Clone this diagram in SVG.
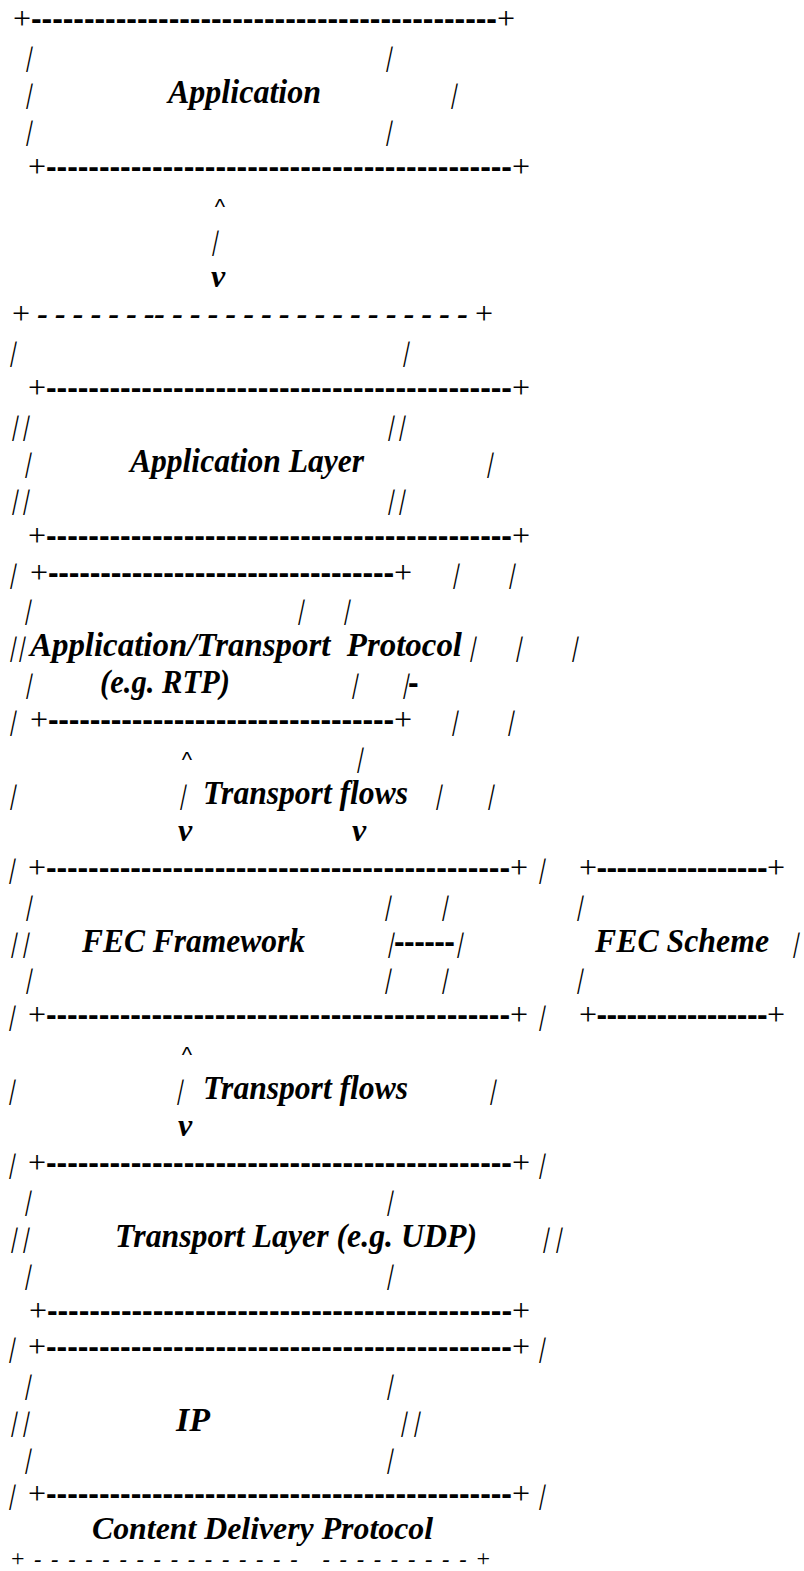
<svg xmlns="http://www.w3.org/2000/svg" width="804" height="1571" viewBox="0 0 804 1571">
  <style>
    text { fill: #000; white-space: pre; }
    .t { font-family: "Liberation Serif", "Times New Roman", serif; font-size: 34px; font-weight: bold; font-style: italic; }
    .t2 { font-family: "Liberation Serif", "Times New Roman", serif; font-size: 31px; font-weight: bold; font-style: italic; }
    .b { font-family: "Liberation Serif", "Times New Roman", serif; font-size: 28px; text-anchor: middle; }
    .p { font-family: "Liberation Serif", "Times New Roman", serif; font-size: 32px; font-weight: normal; font-style: normal; }
    .d { font-family: "Liberation Sans", Arial, sans-serif; font-size: 32px; font-weight: bold; }
    .s { font-family: "Liberation Serif", "Times New Roman", serif; font-size: 32px; font-weight: bold; font-style: italic; }
    .s2 { font-family: "Liberation Serif", "Times New Roman", serif; font-size: 22px; font-weight: bold; font-style: italic; }
    .p2 { font-family: "Liberation Serif", "Times New Roman", serif; font-size: 24px; font-weight: normal; font-style: normal; }
    .c { font-family: "Liberation Sans", Arial, sans-serif; font-size: 22px; text-anchor: middle; }
    .v { font-family: "Liberation Serif", "Times New Roman", serif; font-size: 32px; font-weight: bold; font-style: italic; text-anchor: middle; }
  </style>

  <!-- Application -->
  <g id="application">
    <text class="d" x="13" y="29" textLength="502" lengthAdjust="spacing"><tspan class="p">+</tspan>--------------------------------------------<tspan class="p">+</tspan></text>
    <text class="b" transform="translate(0 65.9) skewX(-12)"><tspan x="28">|</tspan><tspan x="388">|</tspan></text>
    <text class="b" transform="translate(0 102.8) skewX(-12)"><tspan x="28">|</tspan><tspan x="453">|</tspan></text>
    <text class="t" x="168" y="102.8" textLength="153" lengthAdjust="spacingAndGlyphs">Application</text>
    <text class="b" transform="translate(0 139.7) skewX(-12)"><tspan x="28">|</tspan><tspan x="388">|</tspan></text>
    <text class="d" x="28" y="176.6" textLength="502" lengthAdjust="spacing"><tspan class="p">+</tspan>--------------------------------------------<tspan class="p">+</tspan></text>
  </g>

  <!-- Content Delivery Protocol: top of the outer frame -->
  <g id="cdp-top">
    <text class="s" x="12" y="324.2" textLength="481" lengthAdjust="spacing"><tspan class="p">+</tspan> - - - - - - -- - - - - - - - - - - - - - - - - - <tspan class="p">+</tspan></text>
    <text class="b" transform="translate(0 361.1) skewX(-12)"><tspan x="12">|</tspan><tspan x="405">|</tspan></text>
  </g>

  <!-- Application Layer -->
  <g id="application-layer">
    <text class="d" x="28" y="398" textLength="502" lengthAdjust="spacing"><tspan class="p">+</tspan>--------------------------------------------<tspan class="p">+</tspan></text>
    <text class="b" transform="translate(0 434.9) skewX(-12)"><tspan x="14">|</tspan><tspan x="25">|</tspan><tspan x="390">|</tspan><tspan x="401">|</tspan></text>
    <text class="b" transform="translate(0 471.8) skewX(-12)"><tspan x="27">|</tspan><tspan x="489">|</tspan></text>
    <text class="t" x="130" y="471.8" textLength="234" lengthAdjust="spacingAndGlyphs">Application Layer</text>
    <text class="b" transform="translate(0 508.7) skewX(-12)"><tspan x="14">|</tspan><tspan x="25">|</tspan><tspan x="390">|</tspan><tspan x="401">|</tspan></text>
    <text class="d" x="28" y="545.6" textLength="502" lengthAdjust="spacing"><tspan class="p">+</tspan>--------------------------------------------<tspan class="p">+</tspan></text>
  </g>

  <!-- Application/Transport Protocol -->
  <g id="rtp">
    <text class="b" transform="translate(0 582.5) skewX(-12)"><tspan x="12">|</tspan><tspan x="455">|</tspan><tspan x="511">|</tspan></text>
    <text class="d" x="30" y="582.5" textLength="382" lengthAdjust="spacing"><tspan class="p">+</tspan>---------------------------------<tspan class="p">+</tspan></text>
    <text class="b" transform="translate(0 619.4) skewX(-12)"><tspan x="27">|</tspan><tspan x="300">|</tspan><tspan x="346">|</tspan></text>
    <text class="b" transform="translate(0 656.3) skewX(-12)"><tspan x="12">|</tspan><tspan x="21">|</tspan><tspan x="472">|</tspan><tspan x="518">|</tspan><tspan x="574">|</tspan></text>
    <text class="t" x="30" y="656.3" textLength="432" lengthAdjust="spacingAndGlyphs">Application/Transport  Protocol</text>
    <text class="b" transform="translate(0 693.2) skewX(-12)"><tspan x="28">|</tspan><tspan x="354">|</tspan><tspan x="405">|</tspan></text>
    <text class="t" x="100" y="693.2" textLength="130" lengthAdjust="spacingAndGlyphs">(e.g. RTP)</text>
    <text class="d" x="408" y="693.2">-</text>
    <text class="b" transform="translate(0 730.1) skewX(-12)"><tspan x="12">|</tspan><tspan x="454">|</tspan><tspan x="510">|</tspan></text>
    <text class="d" x="30" y="730.1" textLength="382" lengthAdjust="spacing"><tspan class="p">+</tspan>---------------------------------<tspan class="p">+</tspan></text>
  </g>

  <!-- FEC Framework -->
  <g id="fec-framework">
    <text class="b" transform="translate(0 877.7) skewX(-12)"><tspan x="11">|</tspan><tspan x="541">|</tspan></text>
    <text class="d" x="28" y="877.7" textLength="500" lengthAdjust="spacing"><tspan class="p">+</tspan>--------------------------------------------<tspan class="p">+</tspan></text>
    <text class="b" transform="translate(0 914.6) skewX(-12)"><tspan x="28">|</tspan><tspan x="387">|</tspan><tspan x="444">|</tspan></text>
    <text class="b" transform="translate(0 951.5) skewX(-12)"><tspan x="13">|</tspan><tspan x="25">|</tspan></text>
    <text class="t" x="82" y="951.5" textLength="223" lengthAdjust="spacingAndGlyphs">FEC Framework</text>
    <text class="b" transform="translate(0 988.4) skewX(-12)"><tspan x="28">|</tspan><tspan x="387">|</tspan><tspan x="444">|</tspan></text>
    <text class="b" transform="translate(0 1025.3) skewX(-12)"><tspan x="11">|</tspan><tspan x="541">|</tspan></text>
    <text class="d" x="28" y="1025.3" textLength="500" lengthAdjust="spacing"><tspan class="p">+</tspan>--------------------------------------------<tspan class="p">+</tspan></text>
  </g>

  <!-- FEC Scheme -->
  <g id="fec-scheme">
    <text class="d" x="579" y="877.7" textLength="206" lengthAdjust="spacing"><tspan class="p">+</tspan>-----------------<tspan class="p">+</tspan></text>
    <text class="b" transform="translate(0 914.6) skewX(-12)"><tspan x="579">|</tspan></text>
    <text class="t" x="595" y="951.5" textLength="174" lengthAdjust="spacingAndGlyphs">FEC Scheme</text>
    <text class="b" transform="translate(0 951.5) skewX(-12)"><tspan x="795">|</tspan></text>
    <text class="b" transform="translate(0 988.4) skewX(-12)"><tspan x="579">|</tspan></text>
    <text class="d" x="579" y="1025.3" textLength="206" lengthAdjust="spacing"><tspan class="p">+</tspan>-----------------<tspan class="p">+</tspan></text>
  </g>

  <!-- Transport Layer -->
  <g id="transport-layer">
    <text class="b" transform="translate(0 1172.9) skewX(-12)"><tspan x="11">|</tspan><tspan x="541">|</tspan></text>
    <text class="d" x="28" y="1172.9" textLength="502" lengthAdjust="spacing"><tspan class="p">+</tspan>--------------------------------------------<tspan class="p">+</tspan></text>
    <text class="b" transform="translate(0 1209.8) skewX(-12)"><tspan x="27">|</tspan><tspan x="389">|</tspan></text>
    <text class="b" transform="translate(0 1246.7) skewX(-12)"><tspan x="13">|</tspan><tspan x="25">|</tspan><tspan x="545">|</tspan><tspan x="558">|</tspan></text>
    <text class="t" x="115" y="1246.7" textLength="362" lengthAdjust="spacingAndGlyphs">Transport Layer (e.g. UDP)</text>
    <text class="b" transform="translate(0 1283.6) skewX(-12)"><tspan x="27">|</tspan><tspan x="389">|</tspan></text>
    <text class="d" x="29" y="1320.5" textLength="501" lengthAdjust="spacing"><tspan class="p">+</tspan>--------------------------------------------<tspan class="p">+</tspan></text>
  </g>

  <!-- IP -->
  <g id="ip">
    <text class="b" transform="translate(0 1357.4) skewX(-12)"><tspan x="11">|</tspan><tspan x="541">|</tspan></text>
    <text class="d" x="28" y="1357.4" textLength="502" lengthAdjust="spacing"><tspan class="p">+</tspan>--------------------------------------------<tspan class="p">+</tspan></text>
    <text class="b" transform="translate(0 1394.3) skewX(-12)"><tspan x="27">|</tspan><tspan x="389">|</tspan></text>
    <text class="b" transform="translate(0 1431.2) skewX(-12)"><tspan x="13">|</tspan><tspan x="25">|</tspan><tspan x="403">|</tspan><tspan x="416">|</tspan></text>
    <text class="t" x="176" y="1431.2" textLength="34" lengthAdjust="spacingAndGlyphs">IP</text>
    <text class="b" transform="translate(0 1468.1) skewX(-12)"><tspan x="27">|</tspan><tspan x="389">|</tspan></text>
    <text class="b" transform="translate(0 1504) skewX(-12)"><tspan x="11">|</tspan><tspan x="541">|</tspan></text>
    <text class="d" x="28" y="1504" textLength="502" lengthAdjust="spacing"><tspan class="p">+</tspan>--------------------------------------------<tspan class="p">+</tspan></text>
  </g>

  <!-- Content Delivery Protocol: label and bottom of the outer frame -->
  <g id="cdp-bottom">
    <text class="t2" x="92" y="1539" textLength="341" lengthAdjust="spacingAndGlyphs">Content Delivery Protocol</text>
    <text class="s2" x="11" y="1566" textLength="479" lengthAdjust="spacing"><tspan class="p2">+</tspan> - - - - - - - - - - - - - - - -   - - - - - - - - - <tspan class="p2">+</tspan></text>
  </g>

  <!-- Connectors: flow arrows and the framework/scheme link -->
  <g id="connectors">
    <text class="c" x="220" y="213.5">^</text>
    <text class="b" transform="translate(0 250.4) skewX(-12)"><tspan x="214">|</tspan></text>
    <text class="v" x="218" y="287.3">v</text>

    <text class="c" x="187" y="767">^</text>
    <text class="b" transform="translate(0 767) skewX(-12)"><tspan x="359">|</tspan></text>
    <text class="b" transform="translate(0 803.9) skewX(-12)"><tspan x="12">|</tspan><tspan x="182">|</tspan><tspan x="438">|</tspan><tspan x="490">|</tspan></text>
    <text class="t" x="203" y="803.9" textLength="205" lengthAdjust="spacingAndGlyphs">Transport flows</text>
    <text class="v" x="185" y="840.8">v</text>
    <text class="v" x="359" y="840.8">v</text>

    <text class="b" transform="translate(0 951.5) skewX(-12)"><tspan x="390">|</tspan><tspan x="459">|</tspan></text>
    <text class="d" x="394" y="951.5" textLength="61" lengthAdjust="spacing">------</text>

    <text class="c" x="187" y="1062.2">^</text>
    <text class="b" transform="translate(0 1099.1) skewX(-12)"><tspan x="11">|</tspan><tspan x="179">|</tspan><tspan x="492">|</tspan></text>
    <text class="t" x="203" y="1099.1" textLength="205" lengthAdjust="spacingAndGlyphs">Transport flows</text>
    <text class="v" x="185" y="1136">v</text>
  </g>
</svg>
